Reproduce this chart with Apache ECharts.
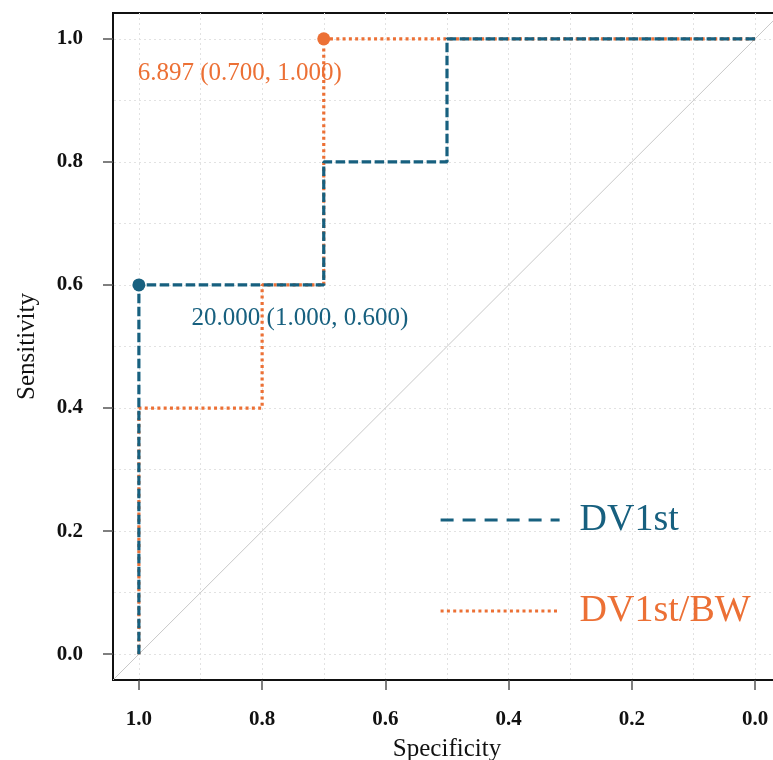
<!DOCTYPE html>
<html>
<head>
<meta charset="utf-8">
<script src="https://cdn.jsdelivr.net/npm/echarts@6/dist/echarts.min.js"></script>
<style>
  html, body { margin: 0; padding: 0; background: #fff; }
  #main { width: 773px; height: 760px; }
</style>
</head>
<body>
<div id="main"></div>
<script>
// ROC data (specificity on x, reversed; sensitivity on y)
var dv1stSpec = [1, 1, 0.7, 0.7, 0.5, 0.5, 0];
var dv1stSens = [0, 0.6, 0.6, 0.8, 0.8, 1, 1];
var bwSpec = [1, 1, 0.8, 0.8, 0.7, 0.7, 0];
var bwSens = [0, 0.4, 0.4, 0.6, 0.6, 1, 1];

// best thresholds
var dv1stBest = [1.0, 0.6];
var dv1stBestLabel = '20.000 (1.000, 0.600)';
var bwBest = [0.7, 1.0];
var bwBestLabel = '6.897 (0.700, 1.000)';

var tickValues = [0, 0.2, 0.4, 0.6, 0.8, 1.0];
var gridValues = [0, 0.1, 0.2, 0.3, 0.4, 0.5, 0.6, 0.7, 0.8, 0.9, 1.0];
var axisMin = -0.042, axisMax = 1.042;

var blue = '#17607f';
var orange = '#ec7035';
var serif = 'Liberation Serif, Times New Roman, serif';

function pairs(xs, ys) {
  return xs.map(function (x, i) { return [x, ys[i]]; });
}

var chart = echarts.init(document.getElementById('main'));

var gridLines = gridValues.map(function (v) { return { xAxis: v }; })
  .concat(gridValues.map(function (v) { return { yAxis: v }; }));

chart.setOption({
  animation: false,
  backgroundColor: '#fff',
  grid: {
    left: 113, top: 13, bottom: 80, right: -8,
    outerBoundsMode: 'none', containLabel: false,
    show: true, borderColor: '#111', borderWidth: 2
  },
  legend: {
    orient: 'vertical',
    left: 434, top: 496,
    itemWidth: 119, itemHeight: 30, itemGap: 53,
    itemStyle: { opacity: 0 },
    data: [
      { name: 'DV1st', textStyle: { color: blue },
        lineStyle: { width: 3.2, type: [13, 9], cap: 'butt' } },
      { name: 'DV1st/BW', textStyle: { color: orange },
        lineStyle: { width: 3.2, type: [3, 3.3], cap: 'butt' } }
    ],
    textStyle: { fontFamily: serif, fontSize: 38, padding: [0, 0, 0, 15] }
  },
  xAxis: {
    type: 'value', inverse: true, min: axisMin, max: axisMax,
    name: 'Specificity', nameLocation: 'middle', nameGap: 57,
    nameTextStyle: { fontFamily: serif, fontSize: 25, color: '#111' },
    axisLine: { show: true, onZero: false, lineStyle: { color: '#111', width: 2 } },
    axisTick: { show: true, customValues: tickValues, length: 10, lineStyle: { color: '#555', width: 1.5 } },
    axisLabel: {
      customValues: tickValues, margin: 29,
      fontFamily: serif, fontSize: 21, fontWeight: 'bold', color: '#111',
      formatter: function (v) { return v.toFixed(1); }
    },
    splitLine: { show: false }
  },
  yAxis: {
    type: 'value', min: axisMin, max: axisMax,
    name: 'Sensitivity', nameLocation: 'middle', nameGap: 73,
    nameTextStyle: { fontFamily: serif, fontSize: 25, color: '#111' },
    axisLine: { show: true, onZero: false, lineStyle: { color: '#111', width: 2 } },
    axisTick: { show: true, customValues: tickValues, length: 10, lineStyle: { color: '#555', width: 1.5 } },
    axisLabel: {
      customValues: tickValues, margin: 30,
      fontFamily: serif, fontSize: 21, fontWeight: 'bold', color: '#111',
      formatter: function (v) { return v.toFixed(1); }
    },
    splitLine: { show: false }
  },
  series: [
    {
      // chance diagonal + dotted grid
      name: 'diag', type: 'line', symbol: 'none', silent: true,
      data: [[axisMax, 1 - axisMax], [axisMin, 1 - axisMin]],
      lineStyle: { color: '#c8c8c8', width: 1 },
      markLine: {
        silent: true, symbol: 'none', animation: false, z: 0,
        label: { show: false },
        lineStyle: { color: '#e2e2e2', width: 1, type: [2, 3] },
        data: gridLines
      },
      z: 1
    },
    {
      name: 'DV1st/BW', type: 'line', symbol: 'none',
      data: pairs(bwSpec, bwSens),
      lineStyle: { color: orange, width: 3.2, type: [3, 3.3], cap: 'butt' },
      itemStyle: { color: orange },
      z: 2
    },
    {
      name: 'DV1st', type: 'line', symbol: 'none',
      data: pairs(dv1stSpec, dv1stSens),
      lineStyle: { color: blue, width: 3.2, type: [9.5, 3.5], cap: 'butt' },
      itemStyle: { color: blue },
      z: 3
    },
    {
      name: 'bwBest', type: 'scatter', symbol: 'circle', symbolSize: 13,
      data: [bwBest],
      itemStyle: { color: orange, opacity: 1, borderWidth: 0 },
      label: {
        show: true, formatter: bwBestLabel, position: 'inside', offset: [-84, 35],
        fontFamily: serif, fontSize: 25, color: orange
      },
      z: 5
    },
    {
      name: 'dv1stBest', type: 'scatter', symbol: 'circle', symbolSize: 13,
      data: [dv1stBest],
      itemStyle: { color: blue, opacity: 1, borderWidth: 0 },
      label: {
        show: true, formatter: dv1stBestLabel, position: 'inside', offset: [161, 33],
        fontFamily: serif, fontSize: 25, color: blue
      },
      z: 5
    }
  ]
});
</script>
</body>
</html>
